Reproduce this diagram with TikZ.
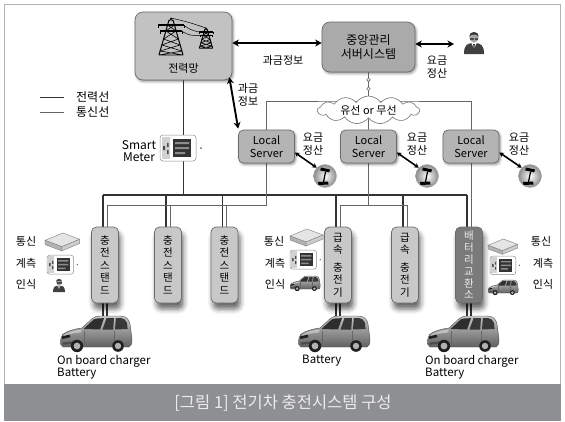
\documentclass[tikz,border=0pt]{standalone}
\usepackage{fontspec}
\setmainfont{Noto Sans CJK KR}
\usetikzlibrary{arrows.meta,shapes.symbols,shadows.blur,calc}
\pgfdeclarelayer{wires}
\pgfsetlayers{wires,main}

\definecolor{captionband}{HTML}{8E8F93}
\definecolor{boxline}{HTML}{6B6B6B}
\definecolor{gridfill}{HTML}{C2C2C2}
\definecolor{serverfill}{HTML}{AAAAAA}
\definecolor{localfill}{HTML}{B4B4B4}
\definecolor{standfill}{HTML}{C8C8C8}
\definecolor{swapfill}{HTML}{7A7A7A}
\definecolor{powerline}{HTML}{333333}
\definecolor{commline}{HTML}{666666}

\tikzset{
  txt/.style={inner sep=0pt, align=center, font=\fontsize{11}{12.5}\selectfont},
  latin/.style={inner sep=0pt, align=left, font=\fontsize{11.5}{12.5}\selectfont},
  boxbase/.style={draw=boxline, line width=0.7pt, inner sep=0pt, align=center},
  softshadow/.style={blur shadow={shadow xshift=1.2pt, shadow yshift=-1.6pt, shadow blur radius=2.5pt, shadow opacity=45}},
  deepshadow/.style={blur shadow={shadow xshift=2pt, shadow yshift=-6pt, shadow blur radius=5pt, shadow opacity=60}},
  gridbox/.style={boxbase, softshadow, fill=gridfill, rounded corners=8pt, minimum width=97pt, minimum height=68pt},
  serverbox/.style={boxbase, softshadow, fill=serverfill, rounded corners=8pt, minimum width=93pt, minimum height=50pt, font=\fontsize{12}{14}\selectfont},
  localbox/.style={boxbase, softshadow, fill=localfill, rounded corners=5pt, minimum width=56pt, minimum height=33pt, font=\fontsize{11}{12.5}\selectfont},
  standbox/.style={boxbase, deepshadow, fill=standfill, rounded corners=5pt, minimum width=27pt, minimum height=76pt, font=\fontsize{10.5}{12.6}\selectfont},
  swapbox/.style={standbox, fill=swapfill, text=black!8, font=\fontsize{10.5}{11.8}\selectfont},
  payicon/.style={circle, minimum size=23pt, inner sep=0pt, draw=black!35, line width=0.4pt, inner color=white, outer color=black!45},
  netcloud/.style={cloud, draw=black!55, fill=white, line width=0.6pt, cloud puffs=13, cloud puff arc=110, aspect=4.3, minimum width=102pt, minimum height=25pt, inner sep=0pt, font=\fontsize{11}{12}\selectfont},
  power/.style={draw=powerline, line width=1.2pt},
  comm/.style={draw=commline, line width=0.8pt},
  dualarrow/.style={line width=1.9pt, {Stealth[length=6.5pt,width=7pt]}-{Stealth[length=6.5pt,width=7pt]}},
  smallarrow/.style={line width=1.6pt, {Stealth[length=4.5pt,width=5pt]}-{Stealth[length=4.5pt,width=5pt]}},
  % lattice transmission tower, apex at origin, y pointing down
  tower/.pic={
    \draw[line width=0.9pt, line join=round] (-1.5,3) -- (0,0) -- (1.5,3);
    \draw[line width=1pt] (-2,2) -- (-12,37) (2,2) -- (12,37);
    \draw[line width=1.3pt] (-13,7) -- (13,7) (-11,13) -- (11,13);
    \draw[line width=0.7pt] (-13,7) -- (-13,10) (13,7) -- (13,10) (-11,13) -- (-11,16) (11,13) -- (11,16);
    \draw[line width=0.6pt] (-3.4,7) -- (5.1,13) (3.4,7) -- (-5.1,13)
      (-5.1,13) -- (7.4,21) -- (-9.1,27) -- (10.9,33) -- (-12,37)
      (5.1,13) -- (-7.4,21) -- (9.1,27) -- (-10.9,33) -- (12,37)
      (-12,37) -- (12,37);
  },
  % person in a suit, head centre at origin
  person/.pic={
    \fill[black!75] (-10,17) .. controls (-10,8) and (-7,6) .. (0,6) .. controls (7,6) and (10,8) .. (10,17) -- cycle;
    \fill[white] (-2.5,6.2) -- (2.5,6.2) -- (0,12) -- cycle;
    \fill[black!85] (-0.8,7) -- (0.8,7) -- (0.5,12) -- (-0.5,12) -- cycle;
    \fill[black!35] (0,0.3) ellipse (4.6 and 5.4);
    \fill[black!80] (-4.8,-0.5) .. controls (-5,-6.5) and (5,-6.5) .. (4.8,-0.5) .. controls (3,-3.2) and (-3,-3.2) .. (-4.8,-0.5);
    \draw[black!70, line width=0.4pt] (-3.6,0.8) rectangle (-0.7,2.2) (0.7,0.8) rectangle (3.6,2.2);
  },
  % electricity meter with dark display, top left at origin
  meter/.pic={
    \draw[black!45, fill=white, rounded corners=3pt, line width=0.5pt] (0,0) rectangle (36,26);
    \fill[black!18] (1.5,2) rectangle (10,24);
    \fill[black!80] (13,4) rectangle (31,22);
    \fill[black!45] (15,7) rectangle (29,9) (15,12) rectangle (29,14) (15,17) rectangle (25,19);
    \fill[black!70] (3,11) rectangle (5,15) (7,8) rectangle (8.5,12) (7,15) rectangle (8.5,19);
    \fill[black!60] (41,13) circle (1);
  },
  % flat communication unit
  modem/.pic={
    \filldraw[draw=black!45, fill=black!10, line width=0.5pt] (0,7) -- (17,0) -- (33,6) -- (16,13) -- cycle;
    \filldraw[draw=black!45, fill=black!30, line width=0.5pt] (0,7) -- (16,13) -- (16,17) -- (0,11) -- cycle;
    \filldraw[draw=black!45, fill=black!20, line width=0.5pt] (16,13) -- (33,6) -- (33,10) -- (16,17) -- cycle;
  },
  % payment terminal glyph
  payterm/.pic={
    \draw[black, line width=1.2pt] (-1.5,6) -- (0.5,-4);
    \fill[black] (-4,-8.5) -- (5,-6.5) -- (4.2,-3.6) -- (-4.8,-5.6) -- cycle;
    \fill[black] (-7,6) -- (3,5.5) -- (3.5,8.5) -- (-6.5,9) -- cycle;
  },
  % compact electric hatchback, top left at origin
  car/.pic={
    \shade[top color=black!22, bottom color=black!62, draw=black!70, line width=0.4pt]
      (3,31) .. controls (0.5,30) and (0,27) .. (0.8,23)
      -- (2.5,18.5) .. controls (7,15) and (14,13) .. (22,12)
      -- (32,2.8) .. controls (34,0.8) and (37,0) .. (41,0)
      -- (60,0) .. controls (66,0) and (69,3) .. (70,8)
      -- (72,23) .. controls (72,28) and (71,30) .. (69,31)
      -- cycle;
    \fill[black!82] (23.5,13) -- (33.5,3.6) .. controls (35,2.6) and (38,2.2) .. (44,2.2) -- (40,13.5) -- cycle;
    \fill[black!78] (42.5,13.5) -- (46.5,2.2) -- (54,2) -- (53.2,13.5) -- cycle;
    \fill[black!78] (55,13.5) -- (55.8,2) -- (61,2) .. controls (64,2.4) and (66,4) .. (67,7) -- (67.6,13) -- cycle;
    \fill[white, opacity=0.4] (4,18.5) .. controls (9,15.5) and (15,14.2) .. (22,13.6) -- (20.5,16.5) .. controls (14,17) and (9,18) .. (4.5,20.5) -- cycle;
    \fill[black!88] (1.8,20.5) -- (9.5,18.6) -- (10.5,21.2) -- (2.4,23) -- cycle;
    \fill[black!70] (2.5,26.5) -- (15,25.2) -- (15,27.5) -- (2.8,28.8) -- cycle;
    \draw[black!60, line width=0.4pt] (24,15) -- (24,29) (54,15) -- (54,28);
    \fill[black!88] (17,30) circle (6.2);
    \fill[black!30] (17,30) circle (3.4);
    \fill[black!88] (58,30) circle (5.8);
    \fill[black!30] (58,30) circle (3.2);
  },
}

\begin{document}
\begin{tikzpicture}[x=1pt,y=-1pt]
\useasboundingbox (0,0) rectangle (565,421);
\draw[black!30, line width=0.6pt] (4.5,4.5) rectangle (560.5,384);
\fill[captionband] (4,384) rectangle (561,421);
\node[inner sep=0pt, font=\fontsize{16.5}{18}\selectfont, text=black!8] (caption) at (283,403) {[그림 1] 전기차 충전시스템 구성};

% ---- main boxes ----
\node[gridbox] (grid) at (183.5,46) {};
\node[txt] (gridlbl) at (183.5,68) {전력망};
\node[serverbox] (server) at (368.5,47) {중앙관리\\서버시스템};

\node[localbox] (ls1) at (266.5,146.5) {Local\\Server};
\node[localbox] (ls2) at (368.5,146.5) {Local\\Server};
\node[localbox] (ls3) at (471,146.5) {Local\\Server};

\node[netcloud] (cloud) at (368.5,110) {유선 or 무선};

\node[standbox] (st1) at (105,265) {충\\전\\스\\탠\\드};
\node[standbox] (st2) at (168,265) {충\\전\\스\\탠\\드};
\node[standbox] (st3) at (224.5,265) {충\\전\\스\\탠\\드};
\node[standbox] (fc1) at (338,265) {급\\속\\[5pt]충\\전\\기};
\node[standbox] (fc2) at (405,265) {급\\속\\[5pt]충\\전\\기};
\node[swapbox] (bx) at (469,265) {배\\터\\리\\교\\환\\소};

% ---- payment terminals ----
\node[payicon] (pay1) at (325,176) {};
\node[payicon] (pay2) at (427,176) {};
\node[payicon] (pay3) at (530,176) {};
\foreach \p in {pay1,pay2,pay3} \pic at (\p) {payterm};

% ---- named anchor points ----
\coordinate (pb0) at (103,195);
\coordinate (pb1) at (467,195);
\coordinate (cb) at (0,205);
\coordinate (cnet) at (368.5,101);
\coordinate (car1) at (60,316);
\coordinate (car2) at (298,316);
\coordinate (car3) at (427,316);
\coordinate (usr) at (474,37);
\coordinate (usrW) at (454,44);
\coordinate (meterTL) at (160,135);

% ---- wiring, kept beneath the boxes ----
\begin{pgfonlayer}{wires}
  % power network
  \draw[power] (grid.south) -- (grid.south |- pb0);
  \draw[power] (pb0) -- (pb1);
  \foreach \s in {st1,st2,st3,fc1,fc2,bx}
    \draw[power] ([xshift=-2pt]\s.north) -- ([xshift=-2pt]\s.north |- pb0);
  % communication network
  \draw[comm] ([xshift=2pt]st1.north) |- (ls1.south |- cb) -- (ls1.south);
  \draw[comm] ([xshift=2pt]st2.north) -- ([xshift=2pt]st2.north |- cb);
  \draw[comm] ([xshift=2pt]st3.north) -- ([xshift=2pt]st3.north |- cb);
  \draw[comm] ([xshift=2pt]fc1.north) |- ([xshift=2pt]fc2.north |- cb) -- ([xshift=2pt]fc2.north);
  \draw[comm] (ls2.south) -- (ls2.south |- cb);
  \draw[comm] (ls3.south) -- ([xshift=2pt]bx.north);
  \draw[comm] (ls1.north) |- (cnet) -| (ls3.north);
  \draw[comm] (cloud.south) -- (ls2.north);
  % charging cables to the vehicles
  \foreach \s/\c in {st1/car1, fc1/car2, bx/car3} {
    \draw[power] ([xshift=-2pt]\s.south) -- ([xshift=-2pt]\s.south |- \c);
    \draw[power] ([xshift=2pt]\s.south) -- ([xshift=2pt]\s.south |- \c);
  }
\end{pgfonlayer}

% link between central server and network cloud
\draw[black!60, line width=1.3pt] (server.south) -- (cloud.north);
\draw[black!60, line width=0.6pt, fill=white]
  ($(server.south)!0.32!(cloud.north)$) circle (1.8)
  ($(server.south)!0.70!(cloud.north)$) circle (1.8);

% ---- power grid icon ----
\pic at (171,18) {tower};
\pic[scale=0.55] at (206,28) {tower};
\draw[line width=0.5pt] (184,25.5) .. controls (191,30) .. (198.9,32);
\draw[line width=0.5pt] (182,31.5) .. controls (190,35.5) .. (200,35.5);
\draw[line width=0.5pt] (171,18) .. controls (188,22) .. (206,28);

% ---- arrows ----
\draw[dualarrow] ([yshift=3pt]grid.east) -- ([yshift=3pt]grid.east -| server.west);
\draw[dualarrow] ([yshift=3pt]server.east) -- (usrW);
\draw[dualarrow] ([shift={(-3pt,3pt)}]grid.south east) -- ([yshift=1pt]ls1.north west);
\draw[smallarrow] ([yshift=-6pt]ls1.east) -- (pay1.135);
\draw[smallarrow] ([yshift=-6pt]ls2.east) -- (pay2.135);
\draw[smallarrow] ([yshift=-6pt]ls3.east) -- (pay3.135);

% ---- labels ----
\node[txt] (l1) at (283,60) {과금정보};
\node[txt] (l2) at (248,95) {과금\\정보};
\node[txt] (l3) at (437,67) {요금\\정산};
\node[txt] (l4) at (313,144) {요금\\정산};
\node[txt] (l5) at (417,144) {요금\\정산};
\node[txt] (l6) at (519,144) {요금\\정산};

% operator
\pic at (usr) {person};

% legend
\draw[powerline, line width=1pt] (40,97) -- (64,97);
\draw[commline, line width=1pt] (40,112) -- (64,112);
\node[txt, anchor=west, font=\fontsize{12}{13}\selectfont] (lg1) at (76,97) {전력선};
\node[txt, anchor=west, font=\fontsize{12}{13}\selectfont] (lg2) at (76,112) {통신선};

% smart meter
\pic at (meterTL) {meter};
\node[latin, align=center, font=\fontsize{12}{12.5}\selectfont] (sm) at (139,151) {Smart\\Meter};

% ---- station equipment groups ----
\pic[scale=1.05] at (45,233) {modem};
\pic[scale=0.74] at (47,255) {meter};
\pic[scale=0.6] at (59,282) {person};
\node[txt] (g1a) at (26,241) {통신};
\node[txt] (g1b) at (26,263) {계측};
\node[txt] (g1c) at (26,284) {인식};

\pic at (290,229) {modem};
\pic[scale=0.74] at (290,250) {meter};
\pic[scale=0.42] at (290,276) {car};
\node[txt] (g2a) at (274,241) {통신};
\node[txt] (g2b) at (275,263) {계측};
\node[txt] (g2c) at (275,284) {인식};

\pic[scale=0.9] at (488,239) {modem};
\pic[scale=0.72] at (490,256) {meter};
\pic[scale=0.42] at (488,280) {car};
\node[txt] (g3a) at (541,241) {통신};
\node[txt] (g3b) at (543,263) {계측};
\node[txt] (g3c) at (543,284) {인식};

% ---- vehicles ----
\pic at (car1) {car};
\pic at (car2) {car};
\pic at (car3) {car};
\node[latin, anchor=north west] (c1) at (57,355) {On board charger\\Battery};
\node[latin, anchor=north west] (c2) at (302,355) {Battery};
\node[latin, anchor=north west] (c3) at (425,355) {On board charger\\Battery};
\end{tikzpicture}
\end{document}
